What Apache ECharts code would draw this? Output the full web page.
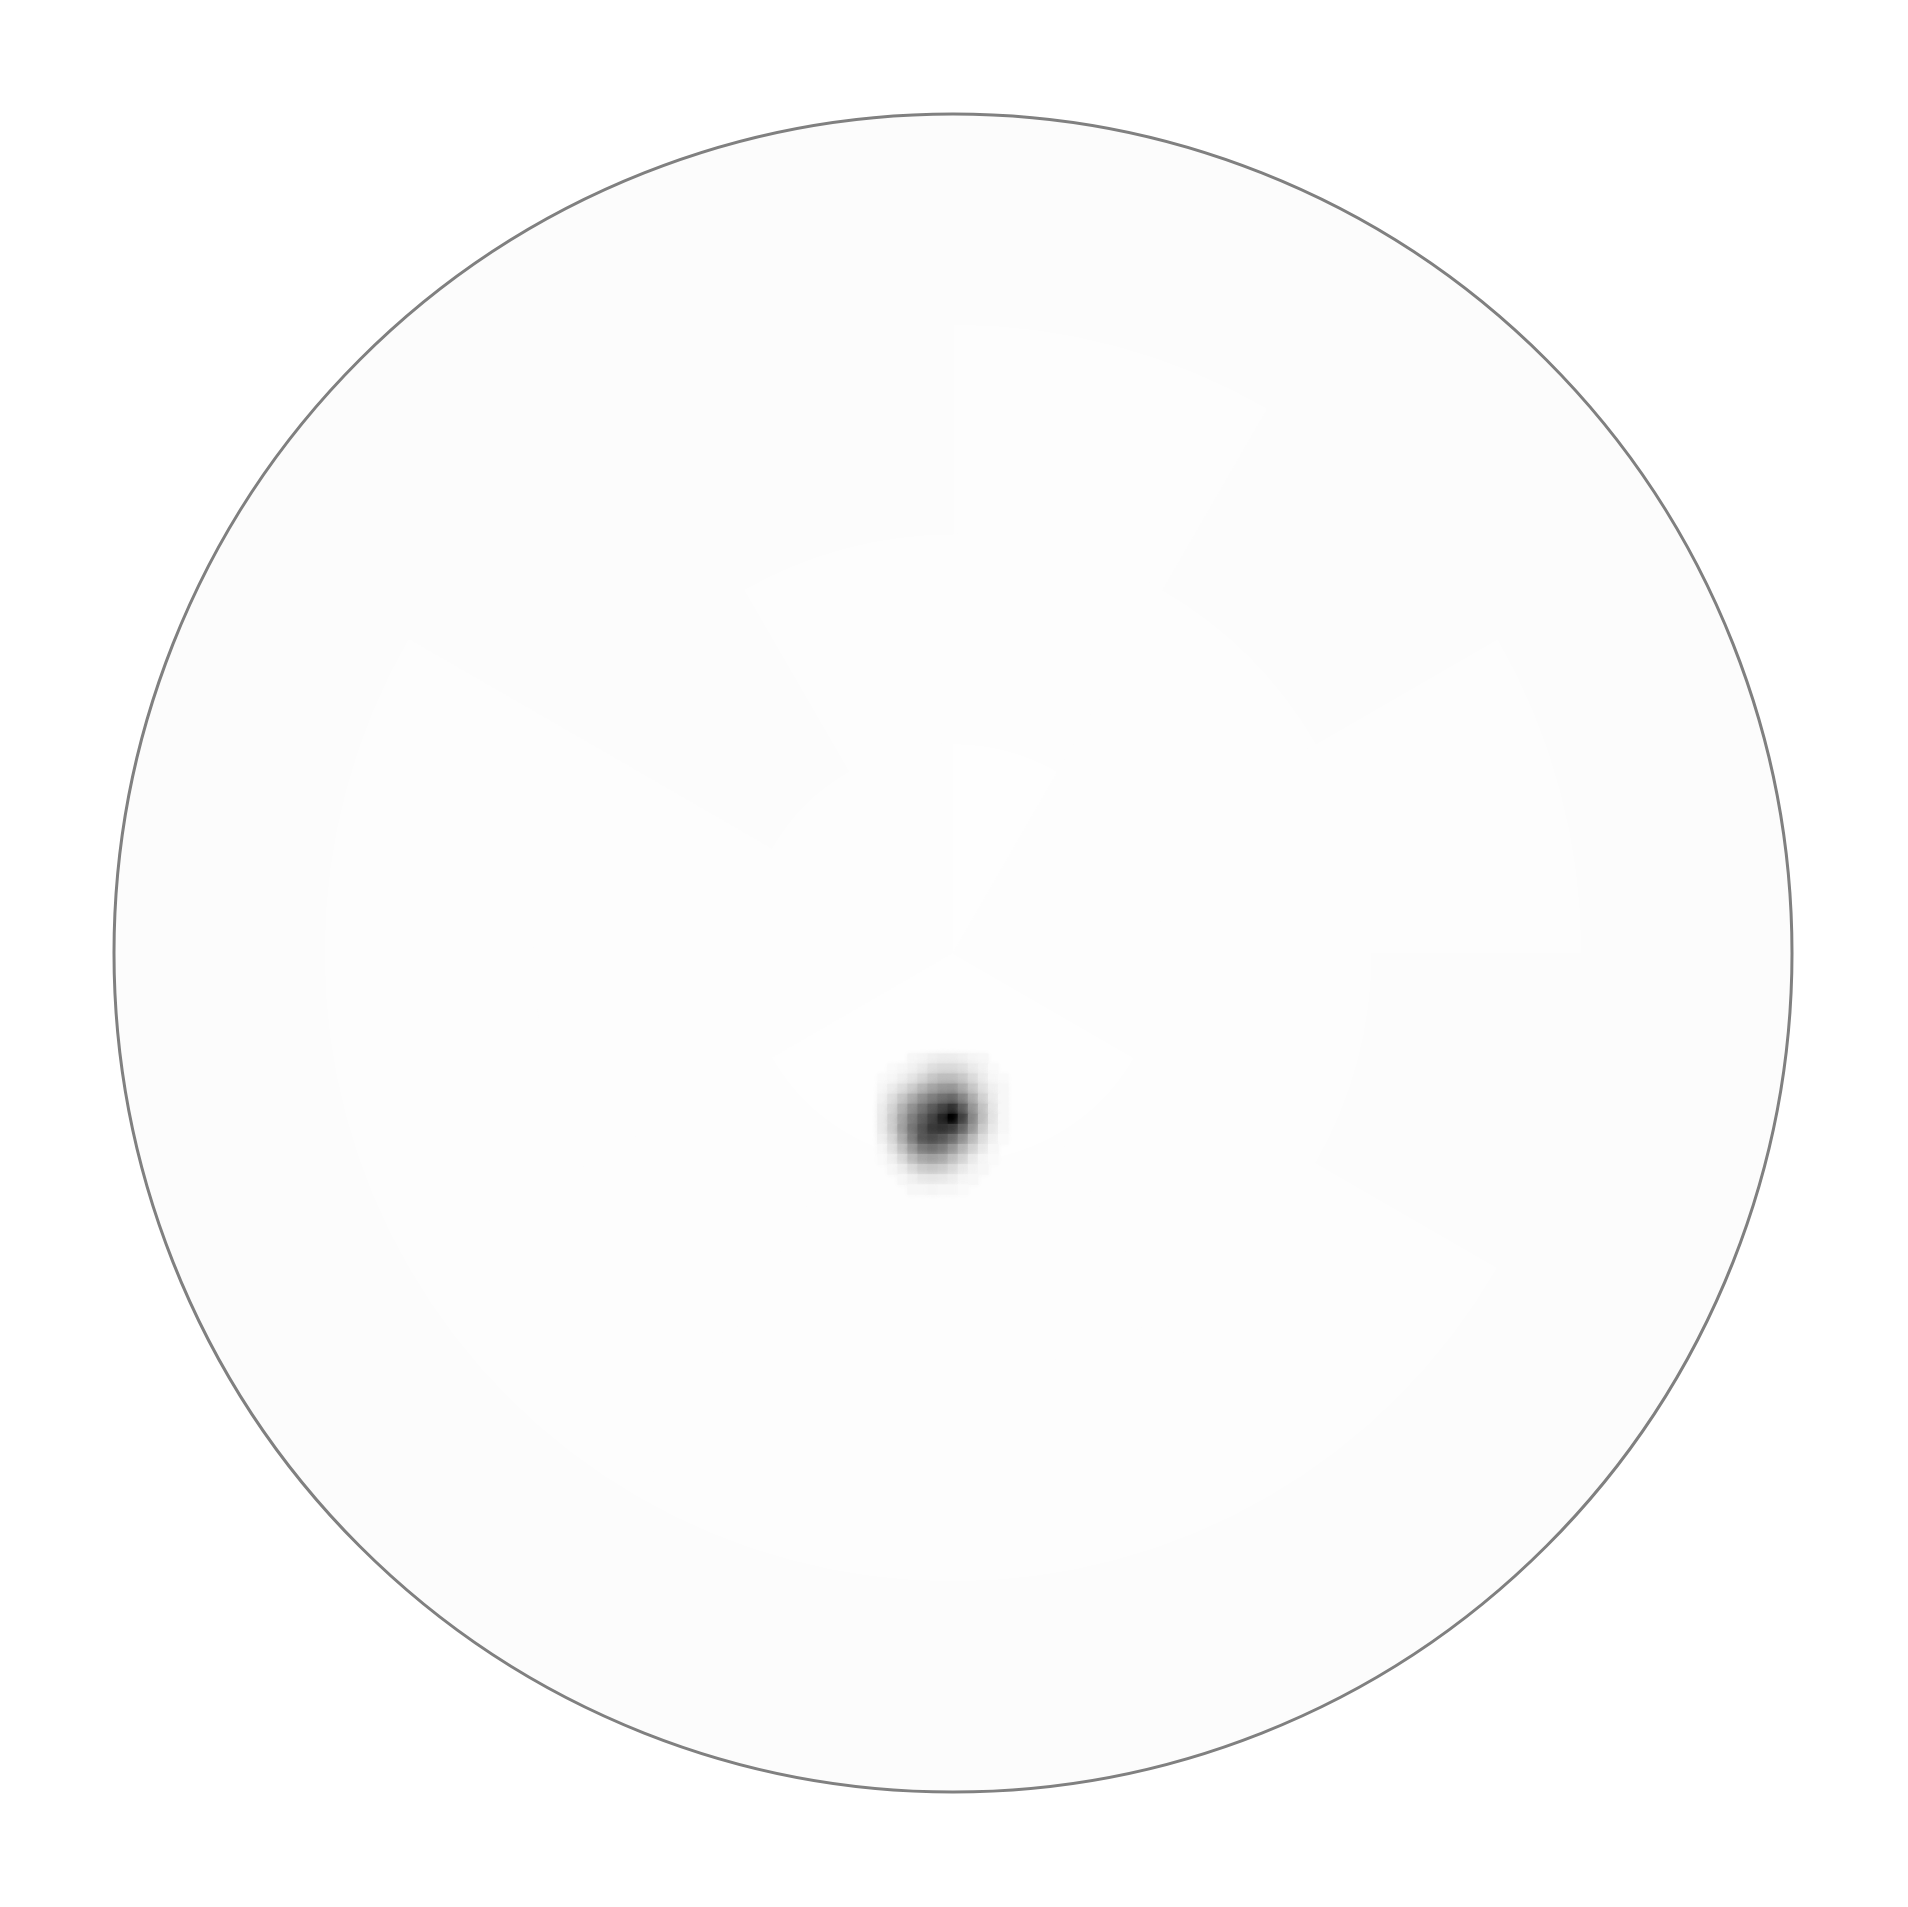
<!DOCTYPE html>
<html>
<head>
<meta charset="utf-8">
<script src="https://cdn.jsdelivr.net/npm/echarts@6/dist/echarts.min.js"></script>
<style>
html,body{margin:0;padding:0;background:#fff;}
#chart{width:1908px;height:1907px;}
</style>
</head>
<body>
<div id="chart"></div>
<script>
// ---- data (intensity 0 = white, 1 = black) ----
// polar background: ring edges (fraction of radius) and sector edges (degrees, CCW from east)
const RING_EDGES = [0, 0.25, 0.5, 0.75, 1.0];
const SECTOR_EDGES = [0, 30, 60, 90, 120, 150, 180, 210, 240, 270, 300, 330, 360];
const BG_LEVELS = [
  [0.006, 0.006, 0.004, 0.006, 0.008, 0.008, 0.006, 0.003, 0.002, 0.002, 0.004, 0.006],
  [0.008, 0.008, 0.008, 0.009, 0.010, 0.008, 0.008, 0.007, 0.006, 0.006, 0.006, 0.008],
  [0.009, 0.010, 0.009, 0.010, 0.010, 0.009, 0.009, 0.009, 0.008, 0.008, 0.009, 0.010],
  [0.011, 0.010, 0.010, 0.010, 0.010, 0.010, 0.010, 0.010, 0.010, 0.011, 0.010, 0.011]
];
// peak region sampled on a fine grid (x, y in units of the disc radius)
const BLOB_X = [-0.084, -0.072, -0.060, -0.048, -0.036, -0.024, -0.012, 0.000, 0.012, 0.024, 0.036, 0.048, 0.060];
const BLOB_Y = [-0.126, -0.138, -0.150, -0.162, -0.174, -0.186, -0.198, -0.210, -0.222, -0.234, -0.246, -0.258, -0.270, -0.282];
const BLOB_LEVELS = [
  [0.00, 0.00, 0.00, 0.03, 0.04, 0.06, 0.07, 0.07, 0.06, 0.04, 0.03, 0.00, 0.00],
  [0.00, 0.02, 0.03, 0.05, 0.08, 0.12, 0.14, 0.14, 0.12, 0.08, 0.05, 0.02, 0.00],
  [0.02, 0.03, 0.06, 0.10, 0.15, 0.21, 0.25, 0.25, 0.21, 0.14, 0.08, 0.03, 0.02],
  [0.03, 0.07, 0.12, 0.19, 0.27, 0.34, 0.39, 0.40, 0.32, 0.22, 0.12, 0.06, 0.03],
  [0.05, 0.12, 0.21, 0.31, 0.41, 0.49, 0.55, 0.58, 0.47, 0.32, 0.18, 0.08, 0.03],
  [0.07, 0.16, 0.29, 0.42, 0.53, 0.63, 0.72, 0.80, 0.63, 0.41, 0.24, 0.10, 0.03],
  [0.08, 0.19, 0.34, 0.49, 0.61, 0.72, 0.85, 1.00, 0.75, 0.47, 0.26, 0.11, 0.03],
  [0.08, 0.19, 0.36, 0.53, 0.66, 0.77, 0.80, 0.77, 0.61, 0.41, 0.21, 0.09, 0.03],
  [0.06, 0.15, 0.31, 0.49, 0.65, 0.70, 0.66, 0.58, 0.44, 0.28, 0.14, 0.06, 0.02],
  [0.03, 0.11, 0.23, 0.38, 0.51, 0.55, 0.51, 0.41, 0.29, 0.18, 0.09, 0.03, 0.00],
  [0.02, 0.06, 0.14, 0.26, 0.34, 0.37, 0.34, 0.26, 0.18, 0.09, 0.04, 0.02, 0.00],
  [0.00, 0.03, 0.07, 0.14, 0.20, 0.22, 0.20, 0.15, 0.09, 0.05, 0.03, 0.00, 0.00],
  [0.00, 0.00, 0.03, 0.06, 0.09, 0.10, 0.09, 0.07, 0.04, 0.03, 0.00, 0.00, 0.00],
  [0.00, 0.00, 0.00, 0.03, 0.03, 0.04, 0.03, 0.03, 0.02, 0.00, 0.00, 0.00, 0.00]
];

// ---- build series data ----
const bgData = [];
BG_LEVELS.forEach(function (row, i) {
  row.forEach(function (d, j) { bgData.push([i, j, d]); });
});
const blobData = [];
BLOB_LEVELS.forEach(function (row, r) {
  row.forEach(function (d, c) {
    if (d >= 0.012) blobData.push([BLOB_X[c], BLOB_Y[r], d]);
  });
});
const HALF_STEP = (BLOB_X[1] - BLOB_X[0]) / 2;

function grey(d) {
  const v = Math.round(255 * (1 - Math.min(1, Math.max(0, d))));
  return 'rgb(' + v + ',' + v + ',' + v + ')';
}

const chart = echarts.init(document.getElementById('chart'), null, { renderer: 'canvas' });
chart.setOption({
  animation: false,
  backgroundColor: '#ffffff',
  grid: { left: 114, top: 114, width: 1678, height: 1678, show: false },
  xAxis: { type: 'value', min: -1, max: 1, show: false },
  yAxis: { type: 'value', min: -1, max: 1, show: false },
  polar: { center: [953, 953], radius: 839, z: 10 },
  angleAxis: {
    type: 'value', min: 0, max: 360, z: 10,
    axisLine: { show: true, lineStyle: { color: '#808080', width: 3 } },
    axisTick: { show: false }, axisLabel: { show: false }, splitLine: { show: false }
  },
  radiusAxis: { type: 'value', min: 0, max: 1, show: false },
  series: [
    {
      type: 'custom',
      coordinateSystem: 'cartesian2d',
      data: bgData,
      silent: true,
      renderItem: function (params, api) {
        const i = api.value(0), j = api.value(1), d = api.value(2);
        const c = api.coord([0, 0]);
        const R = api.size([1, 1])[0];
        const col = grey(d);
        return {
          type: 'sector',
          shape: {
            cx: c[0], cy: c[1],
            r0: RING_EDGES[i] * R, r: RING_EDGES[i + 1] * R,
            startAngle: -SECTOR_EDGES[j + 1] * Math.PI / 180,
            endAngle: -SECTOR_EDGES[j] * Math.PI / 180,
            clockwise: true
          },
          style: { fill: col, stroke: col, lineWidth: 1 }
        };
      }
    },
    {
      type: 'custom',
      coordinateSystem: 'cartesian2d',
      data: blobData,
      silent: true,
      renderItem: function (params, api) {
        const x = api.value(0), y = api.value(1), d = api.value(2);
        const h = HALF_STEP * 1.05;
        const p1 = api.coord([x - h, y + h]);
        const p2 = api.coord([x + h, y - h]);
        const col = grey(d);
        return {
          type: 'rect',
          shape: { x: p1[0], y: p1[1], width: p2[0] - p1[0], height: p2[1] - p1[1] },
          style: { fill: col, shadowBlur: 6, shadowColor: col }
        };
      }
    }
  ]
});
</script>
</body>
</html>
